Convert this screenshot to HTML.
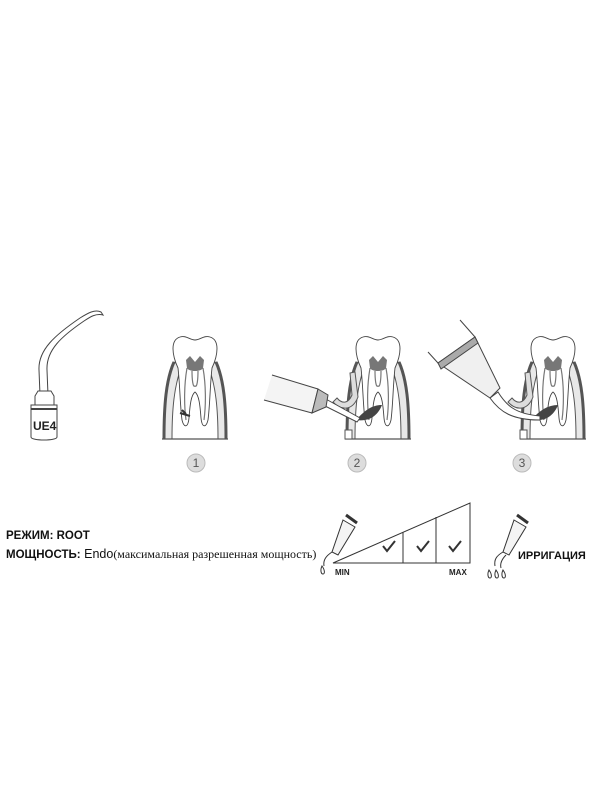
<!DOCTYPE html>
<html><head><meta charset="utf-8"><style>
html,body{margin:0;padding:0;background:#fff;width:600px;height:800px;overflow:hidden}
svg{position:absolute;left:0;top:0}
.t{font-family:"Liberation Sans",sans-serif;font-weight:bold}
</style></head><body>
<svg width="600" height="800" viewBox="0 0 600 800">
<defs>
<g id="tooth">
  <path d="M2,439 C2,405 4,380 12,362 L20,366 C12,385 10,410 10,439 Z" fill="#e8e8e8" stroke="#555" stroke-width="1"/>
  <path d="M2,439 C2,405 4,380 12,362" fill="none" stroke="#555" stroke-width="3"/>
  <path d="M64,439 C64,405 62,380 54,362 L46,366 C54,385 56,410 56,439 Z" fill="#e8e8e8" stroke="#555" stroke-width="1"/>
  <path d="M64,439 C64,405 62,380 54,362" fill="none" stroke="#555" stroke-width="3"/>
  <path d="M16,368 C10,355 8,340 18,337 C24,335 28,340 33,340 C38,340 42,335 48,337 C58,340 56,355 50,368 C48,385 48,405 46,420 C44,428 40,428 39,418 C38,405 37,395 33,392 C29,395 28,405 27,418 C26,428 22,428 20,420 C18,405 18,385 16,368 Z" fill="#fff" stroke="#444" stroke-width="0.9"/>
  <path d="M24,360 L28,356 L33,362 L38,356 L42,360 L41,368 C39,372 27,372 25,368 Z" fill="#777"/>
  <path d="M25,368 C22,385 22,405 24,420 M41,368 C44,385 44,405 42,420 M30,371 C30,380 31,388 33,386 C35,388 36,380 36,371" fill="none" stroke="#777" stroke-width="1.2"/>
  <line x1="0" y1="439" x2="66" y2="439" stroke="#555" stroke-width="1.2"/>
</g>
</defs>

<!-- UE4 tip -->
<g fill="#fff" stroke="#444" stroke-width="1">
  <path d="M40,395 L39,370 C38,350 55,335 80,318 C88,313 95,309 101,312 L103,315 C96,313 90,317 84,321 C62,336 46,350 47,370 L48,395 Z"/>
  <path d="M35,396 L38,391 L51,391 L54,396 L54,405 L35,405 Z"/>
  <path d="M31,405 L57,405 L57,437 C57,441 31,441 31,437 Z"/>
  <line x1="31" y1="409" x2="57" y2="409" stroke-width="2"/>
</g>
<text x="33" y="430" class="t" font-size="12" fill="#222">UE4</text>

<!-- panel 1 -->
<use href="#tooth" transform="translate(162,0)"/>
<path d="M182,410 L186,414 M180,413 L190,416" stroke="#333" stroke-width="2"/>
<!-- panel 2 -->
<use href="#tooth" transform="translate(345,0)"/>
<rect x="345" y="430" width="7" height="9" fill="#fff" stroke="#555"/>
<path d="M356,420 C365,410 372,405 382,405 C378,415 370,422 356,420 Z" fill="#444"/>
<path d="M333,402 C340,410 352,412 358,397 L355,372 L350,373 L352,395 C348,404 342,404 337,398 Z" fill="#ddd" stroke="#555"/>
<g stroke="#444" fill="#fff">
  <path d="M324,398 L360,418 L357,422 L321,404 Z"/>
  <path d="M272,375 L318,389 L312,413 L264,400" fill="#f4f4f4"/>
  <path d="M318,389 L328,395 L326,407 L312,413 Z" fill="#bbb"/>
</g>
<!-- panel 3 -->
<use href="#tooth" transform="translate(520,0)"/>
<rect x="520" y="430" width="7" height="9" fill="#fff" stroke="#555"/>
<path d="M531,420 C540,410 548,405 558,405 C554,415 546,422 531,420 Z" fill="#444"/>
<path d="M508,402 C515,410 527,412 533,397 L530,372 L525,373 L527,395 C523,404 517,404 512,398 Z" fill="#ddd" stroke="#555"/>
<g stroke="#444" fill="#fff">
  <path d="M490,398 C500,412 512,420 540,420 L540,416 C515,414 506,405 498,392 Z"/>
  <path d="M438,363 L475,337 L500,388 L490,398 Z" fill="#f0f0f0"/>
  <path d="M438,363 L475,337 L478,343 L441,369 Z" fill="#aaa"/>
  <path d="M428,352 L438,363 M460,320 L475,337" fill="none"/>
</g>

<!-- numbers -->
<g fill="#ddd" stroke="#bbb">
  <circle cx="196" cy="463" r="9"/><circle cx="357" cy="463" r="9"/><circle cx="522" cy="463" r="9"/>
</g>
<g font-family="Liberation Sans,sans-serif" font-size="12" fill="#555" text-anchor="middle">
  <text x="196" y="467">1</text><text x="357" y="467">2</text><text x="522" y="467">3</text>
</g>

<!-- bottom text -->
<text x="6" y="539" class="t" font-size="11.5" fill="#111">РЕЖИМ: ROOT</text>
<text x="6" y="558" font-size="12" fill="#111"><tspan class="t" font-size="11.5">МОЩНОСТЬ:</tspan><tspan font-family="Liberation Sans,sans-serif" font-size="12.5"> Endo</tspan><tspan font-family="Liberation Serif,serif" font-size="12">(максимальная разрешенная мощность)</tspan></text>

<!-- power triangle -->
<g stroke="#333" stroke-width="1" fill="none">
  <path d="M333,563 L470,563 L470,503 Z"/>
  <line x1="403" y1="532" x2="403" y2="563"/>
  <line x1="436" y1="517" x2="436" y2="563"/>
  <path d="M383,546 L387,551 L395,541 M417,546 L421,551 L429,541 M449,546 L453,551 L461,541" stroke-width="2"/>
</g>
<text x="335" y="575" class="t" font-size="8" fill="#222">MIN</text>
<text x="449" y="575" class="t" font-size="8" fill="#222">MAX</text>
<g stroke="#333" fill="#fff" stroke-width="1">
  <path d="M343,520 L355,527 L338,555 L332,552 Z" fill="#f4f4f4"/>
  <path d="M346,515 L357,523" stroke-width="3"/>
  <path d="M332,552 C326,556 323,560 324,566" fill="none"/>
  <path d="M322,566 C320,570 321,574 323,574 C325,574 325,570 322,566 Z"/>
  <path d="M514,520 L526,527 L509,555 L503,552 Z" fill="#f4f4f4"/>
  <path d="M517,515 L528,523" stroke-width="3"/>
  <path d="M503,552 C496,556 494,560 495,566 M506,555 C501,560 500,564 501,568" fill="none"/>
  <path d="M489,570 C487,574 488,578 490,578 C492,578 492,574 489,570 Z M496,570 C494,574 495,578 497,578 C499,578 499,574 496,570 Z M503,570 C501,574 502,578 504,578 C506,578 506,574 503,570 Z"/>
</g>
<text x="518" y="559" class="t" font-size="11" fill="#111">ИРРИГАЦИЯ</text>
</svg>
</body></html>
